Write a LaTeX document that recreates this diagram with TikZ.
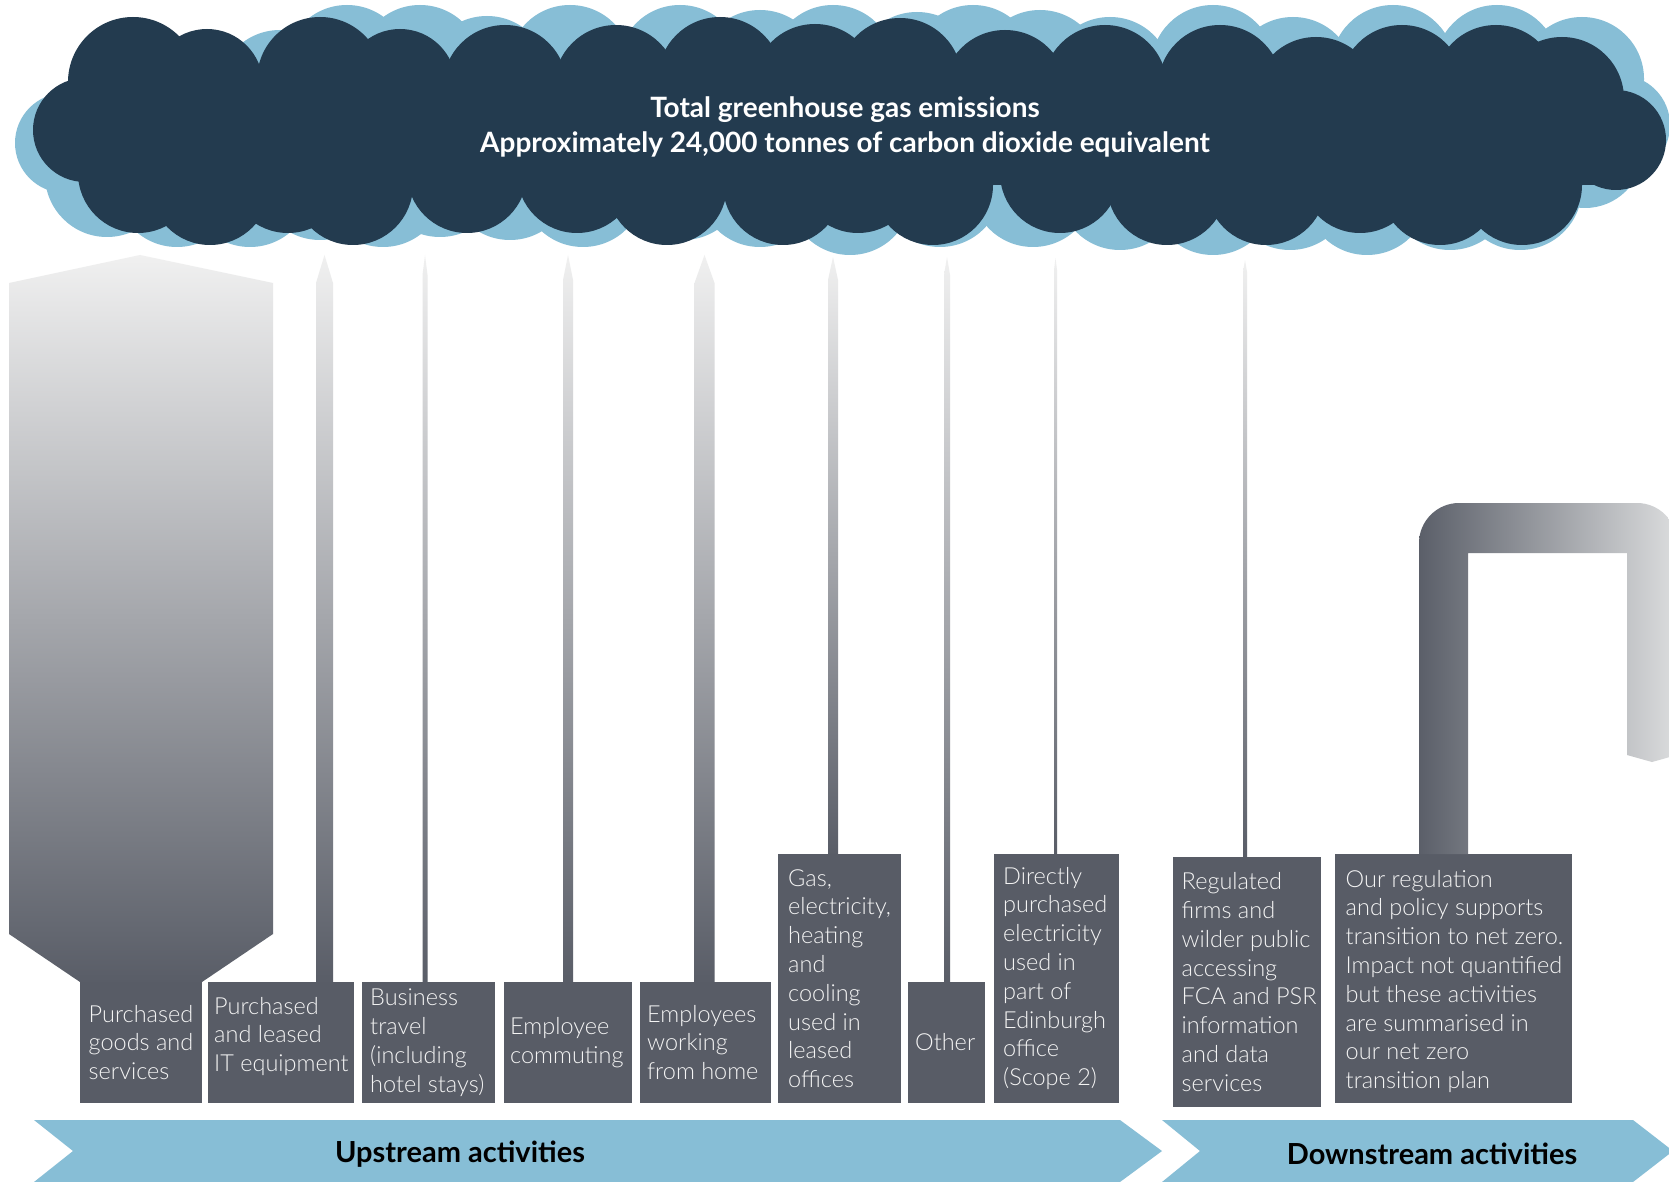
\documentclass[tikz,border=0pt]{standalone}
\usepackage{fontspec}
\setmainfont{Lato}
\IfFontExistsTF{Lato Light}{\newfontfamily\lightfont{Lato Light}}{\newfontfamily\lightfont{Lato}}
\definecolor{navy}{HTML}{233B4F}
\definecolor{skyblue}{HTML}{87BED6}
\definecolor{boxgray}{HTML}{585C66}
\definecolor{barlight}{HTML}{F0F0F0}
\definecolor{bardark}{HTML}{595D67}
\definecolor{hookdark}{HTML}{5B5F69}
\definecolor{hooklight}{HTML}{DCDDDE}
\definecolor{boxtextcol}{HTML}{F4F4F4}
\tikzset{
  boxnode/.style={fill=boxgray, inner sep=0pt, outer sep=0pt},
  boxtext/.style={text=boxtextcol, inner sep=0pt, align=left, anchor=west, font=\lightfont\fontsize{23.5}{28.8}\selectfont},
  barshade/.style={top color=barlight, bottom color=bardark},
  banner/.style={fill=skyblue},
  bannertext/.style={font=\bfseries\fontsize{29}{32}\selectfont, text=black, inner sep=0pt},
  titletext/.style={font=\bfseries\fontsize{28}{35}\selectfont, text=white, align=center, inner sep=0pt},
}
\newcommand\gbar[5]{\shade[barshade] (#1,#3) -- ({#1+#2},#4) -- ({#1+#2},#5) -- ({#1-#2},#5) -- ({#1-#2},#4) -- cycle;}
\begin{document}
\begin{tikzpicture}[x=1pt,y=-1pt]
\useasboundingbox (0,0) rectangle (1669,1182);
\fill[white] (0,0) rectangle (1669,1182);
\clip (0,0) rectangle (1669,1182);

% ---------- light cloud (behind) ----------
\fill[skyblue] (90,90) rectangle (1600,195);
\foreach \x/\t in {280/30, 347/5, 420/5, 487/16, 570/5, 680/5, 760/10, 833/5, 917/12, 973/5, 1040/10, 1110/17, 1213/5, 1293/17, 1393/5, 1497/5, 1582/17}
  \fill[skyblue] (\x,\t+62) circle (62);
\foreach \x/\b in {107/237, 177/247, 250/247, 320/240, 383/247, 440/237, 510/240, 583/247, 683/240, 760/247, 850/255, 940/247, 1033/247, 1120/250, 1213/255, 1290/250, 1367/255, 1450/250, 1520/250}
  \fill[skyblue] (\x,\b-62) circle (62);
\fill[skyblue] (65,143) circle (50);
\fill[skyblue] (1620,125) circle (50);
\fill[skyblue] (1585,150) circle (58);

% ---------- dark cloud ----------
\fill[navy] (90,85) rectangle (1605,185);
\fill[navy] (85,130) circle (52);
\fill[navy] (1616,140) circle (50);
\fill[navy] (133,82) circle (65);
\fill[navy] (207,85) circle (56);
\fill[navy] (320,80) circle (63);
\fill[navy] (400,85) circle (56);
\foreach \x/\t in {505/25, 616/25, 720/17, 815/24, 900/18, 1005/30, 1105/25, 1220/25, 1316/37, 1402/25, 1496/25, 1562/37}
  \fill[navy] (\x,\t+62) circle (62);
\foreach \x/\b in {138/233, 210/245, 288/233, 353/245, 467/233, 577/233, 667/245, 783/245, 858/233, 933/245, 1060/233, 1167/245, 1266/245, 1360/233, 1440/245, 1522/245}
  \fill[navy] (\x,\b-60) circle (60);

\node[titletext] (title) at (845,127) {Total greenhouse gas emissions\\Approximately 24,000 tonnes of carbon dioxide equivalent};

% ---------- boxes ----------
\node[boxnode, minimum width=122, minimum height=121] (b1) at (141,1042.5) {};
\node[boxnode, minimum width=146, minimum height=121] (b2) at (281,1042.5) {};
\node[boxnode, minimum width=133, minimum height=121] (b3) at (428.5,1042.5) {};
\node[boxnode, minimum width=128, minimum height=121] (b4) at (568,1042.5) {};
\node[boxnode, minimum width=131, minimum height=121] (b5) at (705.5,1042.5) {};
\node[boxnode, minimum width=123, minimum height=249] (b6) at (839.5,978.5) {};
\node[boxnode, minimum width=77, minimum height=121] (b7) at (946.5,1042.5) {};
\node[boxnode, minimum width=125, minimum height=249] (b8) at (1056.5,978.5) {};
\node[boxnode, minimum width=148, minimum height=250] (b9) at (1247,982) {};
\node[boxnode, minimum width=237, minimum height=249] (b10) at (1453.5,978.5) {};

% ---------- big arrow (purchased goods) ----------
\shade[barshade] (9,283) -- (140,255) -- (273,283) -- (273,934) -- (b1.north east) -- (b1.north west) -- (9,934) -- cycle;

% ---------- thin arrows ----------
\gbar{324.5}{8.5}{255}{283}{982}
\gbar{425}{2.5}{255}{275}{982}
\gbar{568}{5}{255}{280}{982}
\gbar{704.5}{10}{255}{283}{982}
\gbar{833}{5}{257}{280}{854}
\gbar{947}{3}{257}{275}{982}
\gbar{1055.5}{1.5}{258}{270}{854}
\gbar{1245}{2}{260}{272}{857}

% ---------- hook arrow (net zero) ----------
\shade[left color=hookdark, right color=hooklight]
  (1419,854) -- (1419,543) .. controls (1419,521) and (1437,503) .. (1459,503)
  -- (1637,503) .. controls (1659,503) and (1677,521) .. (1677,543)
  -- (1677,755) -- (1652,762) -- (1627,755) -- (1627,553) -- (1468,553) -- (1468,854) -- cycle;

% ---------- box texts ----------
\node[boxtext] (t1) at ([xshift=8.5pt]b1.west) {Purchased\\goods and\\services};
\node[boxtext] (t2) at ([xshift=6pt,yshift=6pt]b2.west) {Purchased\\and leased\\IT equipment};
\node[boxtext] (t3) at ([xshift=8pt]b3.west) {Business\\travel\\(including\\hotel stays)};
\node[boxtext] (t4) at ([xshift=6pt]b4.west) {Employee\\commuting};
\node[boxtext] (t5) at ([xshift=7pt]b5.west) {Employees\\working\\from home};
\node[boxtext] (t6) at ([xshift=10pt]b6.west) {Gas,\\electricity,\\heating\\and\\cooling\\used in\\leased\\offices};
\node[boxtext] (t7) at ([xshift=7pt]b7.west) {Other};
\node[boxtext] (t8) at ([xshift=9pt]b8.west) {Directly\\purchased\\electricity\\used in\\part of\\Edinburgh\\office\\(Scope 2)};
\node[boxtext] (t9) at ([xshift=8.5pt]b9.west) {Regulated\\firms and\\wilder public\\accessing\\FCA and PSR\\information\\and data\\services};
\node[boxtext] (t10) at ([xshift=10.5pt,yshift=-3pt]b10.west) {Our regulation\\and policy supports\\transition to net zero.\\Impact not quantified\\but these activities\\are summarised in\\our net zero\\transition plan};

% ---------- banners ----------
\fill[banner] (34,1120) -- (1120,1120) -- (1162,1151) -- (1120,1182) -- (34,1182) -- (73,1151) -- cycle;
\fill[banner] (1162,1120) -- (1633,1120) -- (1673,1151) -- (1633,1182) -- (1162,1182) -- (1200,1151) -- cycle;
\node[bannertext] (up) at (460,1154) {Upstream activities};
\node[bannertext] (down) at (1432,1154) {Downstream activities};
\end{tikzpicture}
\end{document}
